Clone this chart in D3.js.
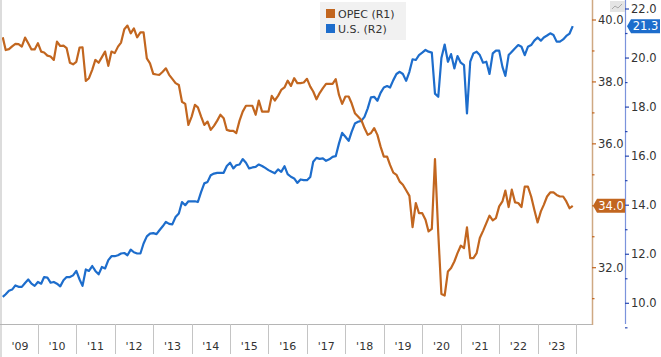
<!DOCTYPE html>
<html><head><meta charset="utf-8">
<script src="https://cdn.jsdelivr.net/npm/d3@7"></script>
<style>body{margin:0;background:#fff}svg{display:block}text{font-family:"DejaVu Sans",sans-serif}</style>
</head><body><svg id="c" width="661" height="357"></svg>
<script>
// Monthly data, Feb 2009 .. Dec 2023
const opec = [39.44,39.03,39.06,39.15,39.23,39.22,39.14,39.43,39.25,39.05,39.05,
 39.25,38.98,38.95,38.85,38.82,38.71,39.30,39.16,39.17,39.09,38.62,38.57,
 38.65,39.11,39.12,38.03,38.12,38.39,38.71,38.62,38.80,38.98,38.52,38.98,
 38.93,39.14,39.27,39.70,39.82,39.57,39.73,39.44,39.60,39.60,38.76,38.60,
 38.26,38.24,38.23,38.33,38.44,38.23,38.10,37.96,37.90,37.36,37.29,36.61,
 36.88,37.26,37.18,36.88,36.61,36.72,36.45,36.58,36.75,36.94,36.83,36.45,
 36.42,36.42,36.35,36.75,37.04,37.23,37.23,37.23,36.94,37.40,37.04,37.04,
 37.04,37.55,37.40,37.55,37.74,37.82,38.04,37.87,38.12,37.96,37.96,37.98,
 38.10,37.85,37.69,37.44,37.64,37.80,37.94,37.94,37.94,38.09,37.58,37.29,
 37.53,37.53,37.31,36.99,36.88,36.77,36.51,36.29,36.35,36.51,36.29,35.91,
 35.59,35.59,35.32,35.07,35.00,34.78,34.68,34.50,34.32,33.31,34.09,33.76,
 33.76,33.55,33.17,33.25,35.51,33.13,31.15,31.10,31.88,31.99,32.20,32.47,
 32.71,32.63,33.30,32.31,32.31,32.47,32.96,33.19,33.44,33.68,33.53,33.60,
 33.98,34.14,34.49,33.96,34.52,34.11,34.09,33.96,34.62,34.62,34.30,33.87,
 33.46,33.82,34.03,34.30,34.43,34.43,34.35,34.30,34.30,34.14,33.92,34.00];
const us = [10.26,10.37,10.51,10.56,10.73,10.67,10.67,10.83,10.97,10.80,10.71,
 10.87,10.80,11.07,11.05,10.84,10.87,10.80,10.69,10.94,11.07,11.07,11.14,
 11.32,10.97,10.71,11.38,11.32,11.52,11.32,11.18,11.48,11.42,11.76,11.92,
 11.92,11.96,12.03,12.05,11.96,12.19,12.08,12.03,12.03,12.44,12.73,12.84,
 12.86,12.82,12.98,13.14,13.32,13.24,13.22,13.52,13.66,14.13,14.00,14.16,
 14.16,14.16,14.13,14.54,14.89,14.95,15.22,15.29,15.32,15.32,15.32,15.60,
 15.73,15.50,15.63,15.66,15.88,15.73,15.50,15.54,15.56,15.66,15.60,15.52,
 15.43,15.36,15.30,15.46,15.36,15.59,15.27,15.16,15.09,14.91,15.05,15.02,
 15.02,15.15,15.77,15.93,15.89,15.91,15.81,15.87,15.97,16.00,16.52,16.95,
 16.79,16.62,16.99,17.33,17.40,17.44,17.60,17.95,18.40,18.42,18.26,18.58,
 18.80,18.86,18.80,19.10,19.35,19.44,19.35,19.07,19.44,19.95,19.92,20.12,
 20.22,20.33,20.26,20.22,18.55,18.42,20.00,20.55,19.85,20.16,19.58,20.08,
 19.81,19.71,17.74,19.85,20.19,20.26,20.12,19.81,19.85,19.35,20.19,20.30,
 20.30,19.64,19.27,20.12,20.26,20.40,20.53,20.46,20.12,20.46,20.53,20.71,
 20.84,20.71,20.84,20.92,21.01,20.94,20.67,20.67,20.76,20.90,21.00,21.30];
const yearLabels = ["'09","'10","'11","'12","'13","'14","'15","'16","'17","'18","'19","'20","'21","'22","'23"];
const opecTicks = [32,34,36,38,40];
const usTicks = [10,12,14,16,18,20,22];
const seriesNames = ["OPEC (R1)","U.S. (R2)"];
const colors = ["#c2661f","#1d6dcc"];

const dates = d3.timeMonth.range(new Date(2009,1,1), new Date(2024,0,1));
const svg = d3.select("#c");
const plotR = 592, plotB = 324;
const x = d3.scaleTime().domain([new Date(2009,0,1), new Date(2024,0,1)]).range([-0.5, 576]);
const yO = d3.scaleLinear().domain([32,40]).range([267.7,20]);
const yU = d3.scaleLinear().domain([10,22]).range([303.3,9]);

svg.append("clipPath").attr("id","clip").append("rect").attr("x",2).attr("y",0).attr("width",plotR-2).attr("height",plotB);

// left strip and bottom border
svg.append("rect").attr("x",0).attr("y",0).attr("width",2).attr("height",357).attr("fill","#dcdcdc");
svg.append("line").attr("x1",0).attr("x2",plotR).attr("y1",plotB+0.5).attr("y2",plotB+0.5).attr("stroke","#b5b5b5");

// x axis year separators and labels
const years = d3.range(2009, 2024);
years.forEach((yr,i) => {
  const xe = Math.round(x(new Date(yr+1,0,1)))+0.5;
  svg.append("line").attr("x1",xe).attr("x2",xe).attr("y1",plotB).attr("y2",354).attr("stroke","#c4c4c4");
  const xm = (x(new Date(yr,0,1)) + x(new Date(yr+1,0,1)))/2;
  svg.append("text").attr("x",Math.max(xm,20)).attr("y",350).attr("text-anchor","middle")
    .attr("font-size",11).attr("fill","#333").text(yearLabels[i]);
});

// lines
const lineO = d3.line().x((d,i)=>x(dates[i])).y(d=>yO(d));
const lineU = d3.line().x((d,i)=>x(dates[i])).y(d=>yU(d));
const g = svg.append("g").attr("clip-path","url(#clip)");
g.append("path").datum(us).attr("d",lineU).attr("fill","none").attr("stroke",colors[1]).attr("stroke-width",2.2).attr("stroke-linejoin","round");
g.append("path").datum(opec).attr("d",lineO).attr("fill","none").attr("stroke",colors[0]).attr("stroke-width",2.2).attr("stroke-linejoin","round");

// right axis 1 (OPEC)
svg.append("line").attr("x1",plotR+0.5).attr("x2",plotR+0.5).attr("y1",0).attr("y2",plotB+1).attr("stroke","#cfa983").attr("stroke-width",1.5);
d3.range(31,41).forEach(v=>{
  const major = v%2===0;
  svg.append("line").attr("x1",plotR).attr("x2",plotR+(major?4:2.5)).attr("y1",yO(v)).attr("y2",yO(v)).attr("stroke","#c2661f").attr("stroke-width",1.2);
});
opecTicks.forEach(v=>{
  if (v===34) return;
  svg.append("text").attr("x",598).attr("y",yO(v)+4).attr("font-size",11.5).attr("fill","#333").text(v.toFixed(1));
});

// right axis 2 (US)
const ax2 = 625;
svg.append("line").attr("x1",ax2+0.5).attr("x2",ax2+0.5).attr("y1",0).attr("y2",plotB).attr("stroke","#7b93dc").attr("stroke-width",1.2);
d3.range(9,23).forEach(v=>{
  const major = v%2===0;
  svg.append("line").attr("x1",ax2).attr("x2",ax2+(major?4:2.5)).attr("y1",yU(v)).attr("y2",yU(v)).attr("stroke","#2748b0").attr("stroke-width",1.2);
});
usTicks.forEach(v=>{
  svg.append("text").attr("x",631).attr("y",yU(v)+4).attr("font-size",11.5).attr("fill","#333").text(v.toFixed(1));
});

// value badges
function badge(xl, w, yc, col, txt){
  const h = 14;
  svg.append("path").attr("d",`M${xl},${yc} L${xl+4},${yc-h/2} L${xl+w},${yc-h/2} L${xl+w},${yc+h/2} L${xl+4},${yc+h/2} Z`).attr("fill",col);
  svg.append("text").attr("x",xl+4+(w-4)/2).attr("y",yc+4).attr("text-anchor","middle").attr("font-size",11.5).attr("fill","#fff").text(txt);
}
badge(593, 32, yO(opec[opec.length-1]), colors[0], opec[opec.length-1].toFixed(1));
badge(627, 33, yU(us[us.length-1]), colors[1], us[us.length-1].toFixed(1));

// small icon top right
svg.append("rect").attr("x",610).attr("y",1).attr("width",15).attr("height",11).attr("fill","#e4e4e4");
svg.append("path").attr("d","M612,9 L615,6 L618,8 L622,4").attr("fill","none").attr("stroke","#999").attr("stroke-width",0.8);

// legend
const lg = svg.append("g");
lg.append("rect").attr("x",320).attr("y",2).attr("width",86).attr("height",38).attr("fill","#f1f1f1");
seriesNames.forEach((n,i)=>{
  lg.append("rect").attr("x",326).attr("y",9+i*15).attr("width",9).attr("height",9).attr("fill",colors[i]);
  lg.append("text").attr("x",338).attr("y",17.5+i*15).attr("font-size",11).attr("fill","#333").text(n);
});
</script></body></html>
